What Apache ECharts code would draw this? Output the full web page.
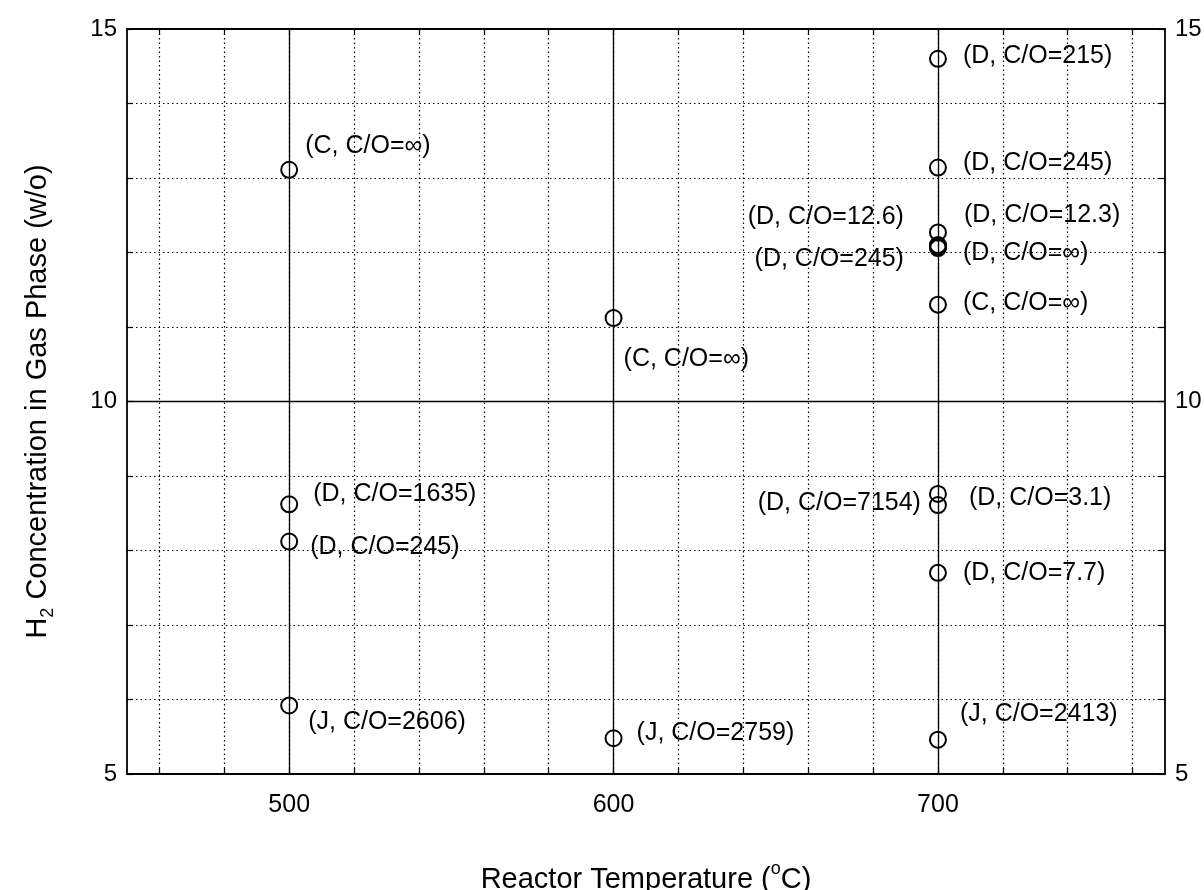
<!DOCTYPE html>
<html>
<head>
<meta charset="utf-8">
<script src="https://cdn.jsdelivr.net/npm/echarts@6/dist/echarts.min.js"></script>
<style>
html,body{margin:0;padding:0;background:#fff;}
#chart{width:1204px;height:890px;}
</style>
</head>
<body>
<div id="chart"></div>
<script>
// ---- data ----
const temperatures = [500, 500, 500, 500, 600, 600, 700, 700, 700, 700, 700, 700, 700, 700, 700, 700, 700];
const h2Values     = [13.11, 8.62, 8.12, 5.92, 11.12, 5.48, 14.60, 13.14, 12.27, 12.10, 12.08, 12.06, 11.30, 8.76, 8.61, 7.70, 5.46];
const pointLabels  = [
  '(C, C/O=∞)', '(D, C/O=1635)', '(D, C/O=245)', '(J, C/O=2606)',
  '(C, C/O=∞)', '(J, C/O=2759)',
  '(D, C/O=215)', '(D, C/O=245)', '(D, C/O=12.3)', '(D, C/O=12.6)', '(D, C/O=245)', '(D, C/O=∞)',
  '(C, C/O=∞)', '(D, C/O=3.1)', '(D, C/O=7154)', '(D, C/O=7.7)', '(J, C/O=2413)'
];
const xTickLabels = [500, 600, 700];
const xMinorTicks = [460, 480, 500, 520, 540, 560, 580, 600, 620, 640, 660, 680, 700, 720, 740, 760];
const yTickLabels = [5, 10, 15];
const majorXLines = [500, 600, 700];
const majorYLines = [10];

// ---- layout (label placement relative to each marker) ----
const labelLayout = [
  ['right', 7, -24], ['right', 15, -10], ['right', 12, 6], ['right', 10, 17],
  ['right', 1, 41], ['right', 14, -5],
  ['right', 16, -3], ['right', 16, -4], ['right', 17, -17], ['left', -25, -28], ['left', -25, 13], ['right', 16, 5],
  ['right', 16, -2], ['right', 22, 4], ['left', -8, -2], ['right', 16, 0], ['right', 13, -26]
];

const FONT = '"Liberation Sans", Arial, Helvetica, sans-serif';
const chart = echarts.init(document.getElementById('chart'), null, {renderer: 'canvas'});

const points = temperatures.map((t, i) => ({
  value: [t, h2Values[i]],
  label: {
    show: true,
    formatter: pointLabels[i],
    position: labelLayout[i][0],
    distance: 0,
    offset: [labelLayout[i][1], labelLayout[i][2]],
    color: '#000',
    opacity: 1,
    textBorderWidth: 0,
    fontSize: 25,
    fontFamily: FONT
  }
}));

const axisLineStyle = {color: '#000', width: 1.8};
const tickStyle = {color: '#000', width: 1.2};

const option = {
  animation: false,
  backgroundColor: '#fff',
  grid: {left: 127, right: 39, top: 29, bottom: 116, containLabel: false, outerBoundsMode: 'none'},
  xAxis: [{
    type: 'value', min: 450, max: 770, position: 'bottom',
    axisLine: {show: true, onZero: false, lineStyle: axisLineStyle},
    axisTick: {show: true, inside: true, length: 6, customValues: xMinorTicks, lineStyle: tickStyle},
    axisLabel: {show: true, customValues: xTickLabels, fontSize: 25, color: '#000', fontFamily: FONT, margin: 19},
    splitLine: {show: true, lineStyle: {color: '#000', type: [1.5, 3], width: 1.2}},
    name: '{t|Reactor Temperature (}{sup|o}{t|C)}',
    nameLocation: 'middle', nameGap: 86,
    nameTextStyle: {
      fontFamily: FONT, color: '#000',
      rich: {
        t: {fontSize: 29, fontFamily: FONT, color: '#000', lineHeight: 34, verticalAlign: 'bottom'},
        sup: {fontSize: 18, fontFamily: FONT, color: '#000', lineHeight: 34, verticalAlign: 'top', padding: [0, 0, 12, 0]}
      }
    }
  }, {
    type: 'value', min: 450, max: 770, position: 'top',
    axisLine: {show: true, onZero: false, lineStyle: axisLineStyle},
    axisTick: {show: true, inside: true, length: 6, customValues: xMinorTicks, lineStyle: tickStyle},
    axisLabel: {show: false},
    splitLine: {show: false}
  }],
  yAxis: [{
    type: 'value', min: 5, max: 15, interval: 1, position: 'left',
    axisLine: {show: true, onZero: false, lineStyle: axisLineStyle},
    axisTick: {show: true, inside: true, length: 6, lineStyle: tickStyle},
    axisLabel: {
      fontSize: 24, color: '#000', fontFamily: FONT, margin: 10,
      formatter: v => (yTickLabels.indexOf(v) >= 0 ? String(v) : '')
    },
    splitLine: {show: true, lineStyle: {color: '#000', type: [1.5, 3], width: 1.2}},
    name: '{t|H}{sub|2}{t| Concentration in Gas Phase (w/o)}',
    nameLocation: 'middle', nameRotate: 90, nameGap: 70,
    nameTextStyle: {
      fontFamily: FONT, color: '#000',
      rich: {
        t: {fontSize: 29, fontFamily: FONT, color: '#000', lineHeight: 34, verticalAlign: 'top'},
        sub: {fontSize: 18, fontFamily: FONT, color: '#000', lineHeight: 34, verticalAlign: 'bottom'}
      }
    }
  }, {
    type: 'value', min: 5, max: 15, interval: 1, position: 'right',
    axisLine: {show: true, onZero: false, lineStyle: axisLineStyle},
    axisTick: {show: true, inside: true, length: 6, lineStyle: tickStyle},
    axisLabel: {
      fontSize: 24, color: '#000', fontFamily: FONT, margin: 10,
      formatter: v => (yTickLabels.indexOf(v) >= 0 ? String(v) : '')
    },
    splitLine: {show: false}
  }],
  series: [{
    type: 'scatter',
    xAxisIndex: 0, yAxisIndex: 0,
    symbol: 'circle', symbolSize: 16,
    itemStyle: {color: 'rgba(0,0,0,0)', borderColor: '#000', borderWidth: 2, opacity: 1},
    label: {fontSize: 25, color: '#000', fontFamily: FONT},
    emphasis: {disabled: true},
    data: points,
    z: 5,
    markLine: {
      silent: true, symbol: 'none', animation: false,
      label: {show: false},
      lineStyle: {type: 'solid', color: '#000', width: 1.3, opacity: 1},
      data: majorXLines.map(v => ({xAxis: v})).concat(majorYLines.map(v => ({yAxis: v})))
    }
  }]
};
chart.setOption(option);
</script>
</body>
</html>
